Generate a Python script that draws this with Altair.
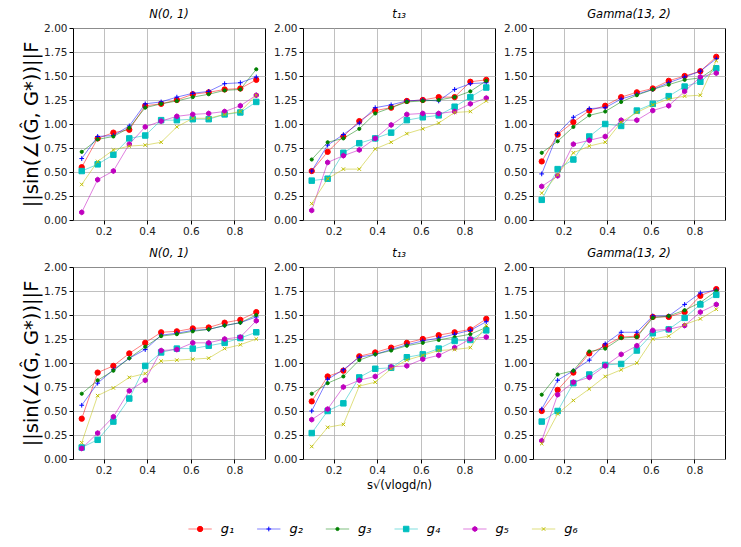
import altair as alt
import pandas as pd

X = [0.1, 0.173, 0.245, 0.318, 0.391, 0.464, 0.536, 0.609, 0.682, 0.755, 0.827, 0.9]
SERIES = ["g1", "g2", "g3", "g4", "g5", "g6"]
LABELS = ["g\u2081", "g\u2082", "g\u2083", "g\u2084", "g\u2085", "g\u2086"]
COLORS = ["#ff0000", "#0000ff", "#008000", "#00bfbf", "#bf00bf", "#bfbf00"]
TITLES = ["N(0, 1)", "t\u2081\u2083", "Gamma(13, 2)"]

# each panel: rows g1..g6
top_normal = [
    [0.55, 0.85, 0.91, 0.94, 1.19, 1.21, 1.25, 1.31, 1.33, 1.36, 1.37, 1.46],
    [0.64, 0.87, 0.88, 0.98, 1.21, 1.23, 1.28, 1.32, 1.34, 1.42, 1.43, 1.49],
    [0.71, 0.84, 0.87, 0.96, 1.17, 1.21, 1.24, 1.28, 1.31, 1.35, 1.36, 1.57],
    [0.51, 0.58, 0.68, 0.85, 0.88, 1.04, 1.04, 1.05, 1.05, 1.10, 1.12, 1.23],
    [0.08, 0.42, 0.51, 0.79, 0.97, 1.03, 1.08, 1.10, 1.11, 1.13, 1.19, 1.30],
    [0.37, 0.61, 0.73, 0.77, 0.78, 0.81, 0.97, 1.06, 1.06, 1.10, 1.13, 1.30],
]
top_t13 = [
    [0.51, 0.71, 0.87, 1.03, 1.14, 1.17, 1.24, 1.25, 1.28, 1.28, 1.44, 1.46],
    [0.51, 0.78, 0.89, 1.01, 1.17, 1.20, 1.24, 1.25, 1.24, 1.36, 1.42, 1.43],
    [0.63, 0.81, 0.85, 0.95, 1.11, 1.17, 1.23, 1.24, 1.25, 1.28, 1.34, 1.45],
    [0.41, 0.43, 0.70, 0.80, 0.85, 0.91, 1.04, 1.07, 1.09, 1.18, 1.28, 1.38],
    [0.10, 0.60, 0.67, 0.73, 0.85, 0.99, 1.10, 1.11, 1.11, 1.13, 1.21, 1.27],
    [0.17, 0.43, 0.53, 0.53, 0.74, 0.81, 0.90, 0.95, 1.01, 1.12, 1.13, 1.24],
]
top_gamma = [
    [0.61, 0.89, 1.02, 1.14, 1.19, 1.28, 1.33, 1.37, 1.45, 1.50, 1.55, 1.70],
    [0.48, 0.90, 1.07, 1.16, 1.17, 1.26, 1.31, 1.36, 1.43, 1.49, 1.55, 1.68],
    [0.70, 0.82, 0.97, 1.09, 1.13, 1.23, 1.30, 1.36, 1.41, 1.46, 1.48, 1.59],
    [0.21, 0.53, 0.63, 0.87, 1.00, 0.98, 1.14, 1.21, 1.29, 1.39, 1.44, 1.58],
    [0.35, 0.46, 0.79, 0.83, 0.87, 1.04, 1.04, 1.14, 1.19, 1.34, 1.49, 1.53],
    [0.28, 0.47, 0.70, 0.77, 0.81, 1.02, 1.12, 1.20, 1.26, 1.29, 1.30, 1.66],
]
bottom_normal = [
    [0.42, 0.90, 0.97, 1.10, 1.21, 1.32, 1.33, 1.36, 1.37, 1.42, 1.45, 1.53],
    [0.56, 0.79, 0.93, 1.05, 1.14, 1.29, 1.31, 1.34, 1.35, 1.39, 1.42, 1.48],
    [0.68, 0.82, 0.92, 1.05, 1.17, 1.28, 1.30, 1.33, 1.35, 1.39, 1.42, 1.50],
    [0.12, 0.20, 0.39, 0.63, 0.97, 1.11, 1.15, 1.15, 1.18, 1.21, 1.26, 1.32],
    [0.11, 0.27, 0.44, 0.71, 0.82, 1.13, 1.14, 1.21, 1.21, 1.25, 1.27, 1.44],
    [0.17, 0.66, 0.74, 0.85, 0.89, 1.02, 1.03, 1.04, 1.05, 1.15, 1.19, 1.25],
]
bottom_t13 = [
    [0.60, 0.86, 0.92, 1.07, 1.11, 1.16, 1.21, 1.25, 1.29, 1.32, 1.35, 1.46],
    [0.50, 0.83, 0.93, 1.06, 1.09, 1.14, 1.19, 1.23, 1.26, 1.30, 1.34, 1.43],
    [0.68, 0.79, 0.86, 1.03, 1.09, 1.13, 1.18, 1.21, 1.24, 1.27, 1.30, 1.37],
    [0.27, 0.50, 0.58, 0.85, 0.94, 0.95, 1.06, 1.09, 1.15, 1.23, 1.24, 1.34],
    [0.41, 0.52, 0.75, 0.82, 0.86, 0.96, 0.97, 1.04, 1.08, 1.16, 1.25, 1.27],
    [0.13, 0.33, 0.36, 0.76, 0.80, 0.94, 1.03, 1.08, 1.13, 1.14, 1.16, 1.39],
]
bottom_gamma = [
    [0.50, 0.72, 0.90, 1.10, 1.18, 1.27, 1.28, 1.48, 1.48, 1.53, 1.70, 1.77],
    [0.52, 0.82, 0.92, 1.03, 1.20, 1.32, 1.32, 1.49, 1.49, 1.61, 1.73, 1.76],
    [0.67, 0.88, 0.92, 1.12, 1.15, 1.26, 1.27, 1.47, 1.49, 1.55, 1.63, 1.75],
    [0.39, 0.50, 0.79, 0.88, 0.98, 0.99, 1.13, 1.31, 1.35, 1.47, 1.61, 1.71],
    [0.19, 0.67, 0.80, 0.85, 0.97, 1.09, 1.18, 1.34, 1.35, 1.39, 1.53, 1.61],
    [0.16, 0.47, 0.61, 0.73, 0.86, 0.93, 1.00, 1.25, 1.28, 1.40, 1.46, 1.56],
]

FONT = "DejaVu Sans"
PLUS = "M-1,0L1,0M0,-1L0,1"
CROSS = "M-1,-1L1,1M-1,1L1,-1"
HEX = "M0,-1L0.866,-0.5L0.866,0.5L0,1L-0.866,0.5L-0.866,-0.5Z"
# marker styles (shape, size, filled)
MARKERS = [
    ("circle", 28, True),
    (PLUS, 22, False),
    ("circle", 10, True),
    ("square", 30, True),
    (HEX, 24, True),
    (CROSS, 12, False),
]

Y_TITLE = "||sin(\u2220(\u011c, G*))||F"
X_TITLE = "s\u221a(vlogd/n)"

W, H = 192, 192


def point_layer(base, k, xenc, yenc):
    shape, size, filled = MARKERS[k]
    return base.transform_filter(alt.datum.series == SERIES[k]).mark_point(
        shape=shape, size=size, filled=filled, fill=COLORS[k] if filled else "transparent",
        stroke=COLORS[k], strokeWidth=1, opacity=1,
    ).encode(x=xenc, y=yenc)


def panel(values, title, ytitle, xtitle):
    rows = []
    for s, vals in zip(SERIES, values):
        for xv, yv in zip(X, vals):
            rows.append({"series": s, "x": xv, "y": yv})
    df = pd.DataFrame(rows)
    base = alt.Chart(df)
    xenc = alt.X("x:Q", scale=alt.Scale(domain=[0.06, 0.94], nice=False, zero=False),
                 axis=alt.Axis(values=[0.2, 0.4, 0.6, 0.8], format=".1f"),
                 title=xtitle if xtitle else None)
    yenc = alt.Y("y:Q", scale=alt.Scale(domain=[0, 2], nice=False),
                 axis=alt.Axis(values=[0, 0.25, 0.5, 0.75, 1.0, 1.25, 1.5, 1.75, 2.0], format=".2f"),
                 title=ytitle if ytitle else None)
    layers = []
    for k, s in enumerate(SERIES):
        layers.append(
            base.transform_filter(alt.datum.series == s)
            .mark_line(color=COLORS[k], strokeWidth=1, opacity=0.5)
            .encode(x=xenc, y=yenc)
        )
        layers.append(point_layer(base, k, xenc, yenc))
    return alt.layer(*layers).properties(
        width=W, height=H,
        title=alt.TitleParams(title, font=FONT, fontSize=11.5, fontWeight="normal",
                              fontStyle="italic", color="#000", offset=3),
    )


row1 = alt.hconcat(
    panel(top_normal, TITLES[0], Y_TITLE, None),
    panel(top_t13, TITLES[1], None, None),
    panel(top_gamma, TITLES[2], None, None),
    spacing=7,
)
row2 = alt.hconcat(
    panel(bottom_normal, TITLES[0], Y_TITLE, None),
    panel(bottom_t13, TITLES[1], None, X_TITLE),
    panel(bottom_gamma, TITLES[2], None, None),
    spacing=7,
)

# legend
leg_df = pd.DataFrame({"series": SERIES, "label": LABELS, "i": list(range(6))})
leg_base = alt.Chart(leg_df).transform_calculate(
    x0="datum.i - 0.17", x1="datum.i + 0.17", xt="datum.i + 0.3"
)
lx = alt.Scale(domain=[-1.85, 7.67])
leg_layers = []
for k, s in enumerate(SERIES):
    sub = leg_base.transform_filter(alt.datum.series == s)
    leg_layers.append(
        sub.mark_rule(color=COLORS[k], strokeWidth=1, opacity=0.5).encode(
            x=alt.X("x0:Q", scale=lx, axis=None), x2="x1:Q", y=alt.value(10)
        )
    )
    shape, size, filled = MARKERS[k]
    leg_layers.append(
        sub.mark_point(shape=shape, size=size, filled=filled, fill=COLORS[k] if filled else "transparent",
                       stroke=COLORS[k], strokeWidth=1, opacity=1).encode(
            x=alt.X("i:Q", scale=lx, axis=None), y=alt.value(10)
        )
    )
leg_layers.append(
    leg_base.mark_text(align="left", baseline="middle", font=FONT, fontSize=13, fontStyle="italic", color="#000").encode(
        x=alt.X("xt:Q", scale=lx, axis=None), y=alt.value(10), text="label:N"
    )
)
legend = alt.layer(*leg_layers).properties(width=654, height=20, view=alt.ViewBackground(strokeOpacity=0))

chart = alt.vconcat(
    alt.vconcat(row1, row2, spacing=10),
    legend,
    spacing=27,
).configure_view(stroke="#000", strokeWidth=1).configure_axis(
    labelFont=FONT, labelFontSize=10.5, labelColor="#222",
    titleFont=FONT, titleFontWeight="normal", titleColor="#000",
    tickColor="#000", tickSize=4, domain=False,
    gridColor="#b0b0b0", gridWidth=0.8, labelPadding=2,
).configure_axisY(titleFontSize=19.5, titlePadding=2).configure_axisX(titleFontSize=11.5, titlePadding=4
).properties(background="white", padding={"left": 13, "top": 0, "right": 0, "bottom": 0})

chart.save("out.html", embed_options={"renderer": "svg", "actions": False})
